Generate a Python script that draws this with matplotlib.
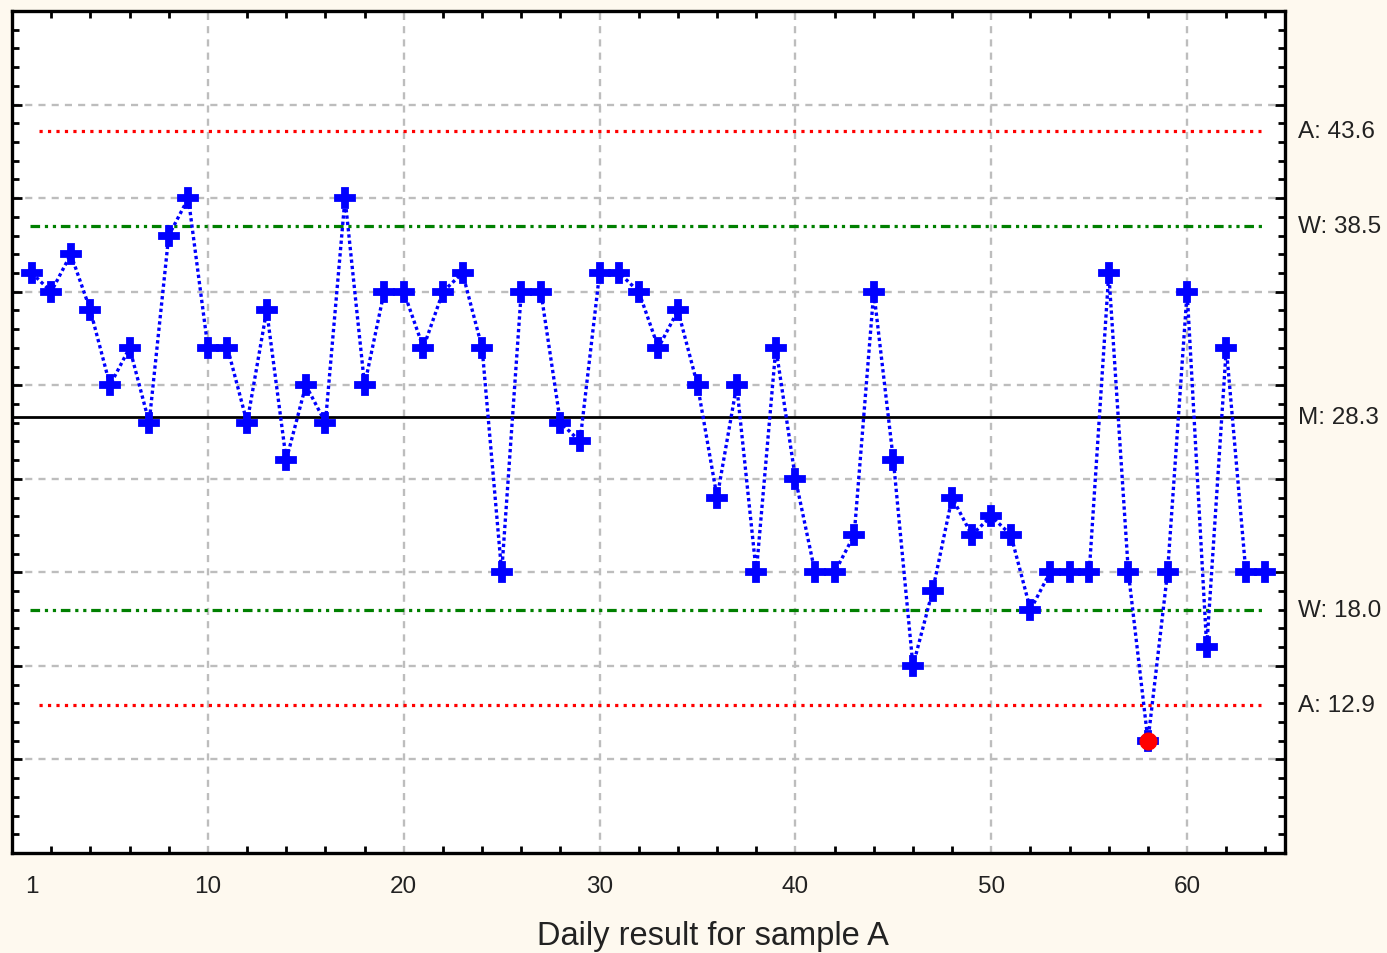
import numpy as np
import matplotlib.pyplot as plt
from matplotlib import transforms

# daily results for sample A
days = np.arange(1, 65)
results = [36, 35, 37, 34, 30, 32, 28, 38, 40, 32,
           32, 28, 34, 26, 30, 28, 40, 30, 35, 35,
           32, 35, 36, 32, 20, 35, 35, 28, 27, 36,
           36, 35, 32, 34, 30, 24, 30, 20, 32, 25,
           20, 20, 22, 35, 26, 15, 19, 24, 22, 23,
           22, 18, 20, 20, 20, 36, 20, 11, 20, 35,
           16, 32, 20, 20]

mean_line = 28.3
warn_lines = [38.5, 18.0]
action_lines = [43.6, 12.9]
limit_labels = ["A: 43.6", "W: 38.5", "M: 28.3", "W: 18.0", "A: 12.9"]
limit_values = [43.6, 38.5, 28.3, 18.0, 12.9]

xtick_vals = [1, 10, 20, 30, 40, 50, 60]
xgrid_vals = [10, 20, 30, 40, 50, 60]
ygrid_vals = [10, 15, 20, 25, 30, 35, 40, 45]

plt.rcParams['font.family'] = ['Liberation Sans', 'DejaVu Sans']

bg = '#fef9ef'
fig = plt.figure(figsize=(13.87, 9.54), dpi=100, facecolor=bg)
ax = fig.add_axes([0.0087, 0.1048, 0.9178, 0.8826])
ax.set_facecolor('white')

ax.set_xlim(0, 65)
ax.set_ylim(5, 50)

grid_kw = dict(color='#bdbdbd', lw=1.7, linestyle=(0, (3, 2.6)), zorder=1)
for gx in xgrid_vals:
    ax.axvline(gx, **grid_kw)
for gy in ygrid_vals:
    ax.axhline(gy, **grid_kw)

# control limits
for a in action_lines:
    ax.plot([1.4, 63.75], [a, a], color='#ff0000', lw=2.3, linestyle=':', zorder=2)
for w in warn_lines:
    ax.plot([0.9, 64.0], [w, w], color='#008000', lw=2.3,
            linestyle=(0, (3, 1.5, 1, 1.5, 1, 1.5)), zorder=2)
ax.axhline(mean_line, color='black', lw=2.0, zorder=2)

ax.plot(days, results, color='#0000ff', lw=2.4, linestyle=(0, (1.0, 0.9)),
        marker='P', markersize=14, markeredgewidth=1.3, zorder=3)

# out of control point
out = [i for i, v in enumerate(results) if v < action_lines[1]]
ax.plot(days[out], np.array(results)[out], 'o', color='#ff0000',
        markersize=12, zorder=4)

trans = transforms.blended_transform_factory(ax.transAxes, ax.transData)
for lab, v in zip(limit_labels, limit_values):
    ax.text(1.0102, v, lab, transform=trans, ha='left', va='center',
            fontsize=17.5, color='#222222')

ax.set_xticks(xtick_vals)
ax.set_xticklabels([str(v) for v in xtick_vals], fontsize=17.5, color='#222222')
ax.set_xticks(np.arange(2, 65, 2), minor=True)
ax.set_yticks(np.arange(10, 50, 5))
ax.set_yticks(np.arange(6, 50, 1), minor=True)
ax.set_yticklabels([])

ax.tick_params(axis='x', which='major', length=0, pad=16)
ax.tick_params(axis='x', which='minor', direction='in', length=5, width=2,
               top=True, bottom=True)
ax.tick_params(axis='y', which='major', direction='in', length=7, width=2,
               left=True, right=True)
ax.tick_params(axis='y', which='minor', direction='in', length=5, width=2,
               left=True, right=True)

for sp in ax.spines.values():
    sp.set_linewidth(2.4)
    sp.set_color('black')

fig.text(713 / 1387, 1 - 937 / 954, "Daily result for sample A", ha='center',
         va='center', fontsize=23.5, color='#222222')

fig.savefig('out.png', dpi=100, facecolor=bg)
